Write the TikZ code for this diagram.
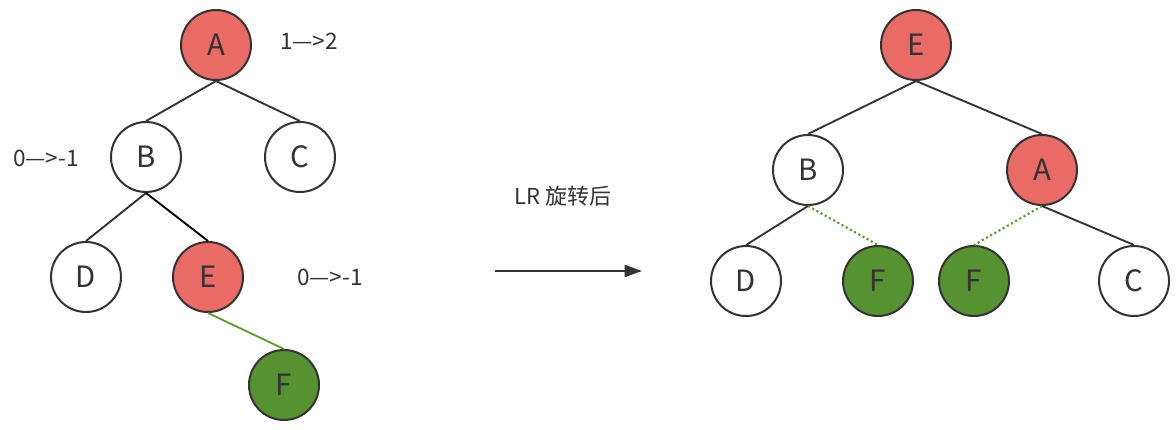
\documentclass[tikz,border=0pt]{standalone}
\usepackage{fontspec}
\setmainfont{Noto Sans CJK SC}
\usetikzlibrary{arrows.meta}
\definecolor{ink}{HTML}{333333}
\definecolor{redfill}{HTML}{EA6B66}
\definecolor{greenfill}{HTML}{56922F}
\definecolor{greenline}{HTML}{5C9E2E}
\tikzset{
  tn/.style={circle, draw=ink, line width=1.5pt, minimum size=52.5pt, inner sep=0pt, font=\fontsize{22}{22}\selectfont, text=ink},
  rn/.style={tn, fill=redfill},
  gn/.style={tn, fill=greenfill},
  wn/.style={tn, fill=white},
  edge/.style={draw=ink, line width=1.4pt},
  gedge/.style={draw=greenline, line width=1.4pt},
  dedge/.style={draw=greenline, line width=1.6pt, dotted},
  lbl/.style={font=\fontsize{17}{17}\selectfont, text=ink},
}
\begin{document}
\begin{tikzpicture}[x=0.75pt,y=-0.75pt]
\useasboundingbox (0,0) rectangle (1176,429);
% left tree
\node[rn] (lA) at (216,45) {A};
\node[wn] (lB) at (146,157) {B};
\node[wn] (lC) at (300,157) {C};
\node[wn] (lD) at (86,277) {D};
\node[rn] (lE) at (208,277) {E};
\node[gn] (lF) at (284,385) {F};
\draw[edge] (lA.south) -- (lB.north);
\draw[edge] (lA.south) -- (lC.north);
\draw[edge] (lB.south) -- (lD.north);
\draw[draw=black, line width=1.4pt] (lB.south) -- (lE.north);
\draw[gedge] (lE.south) -- (lF.north);
\node[lbl] (t1) at (309,41) {1—>2};
\node[lbl] (t2) at (46,158) {0—>-1};
\node[lbl] (t3) at (330,277) {0—>-1};
% arrow
\coordinate (a1) at (495,271);
\coordinate (a2) at (642,271);
\draw[draw=ink, line width=1.4pt, -{Triangle[length=13pt,width=9pt]}] (a1) -- (a2);
\node[lbl, font=\fontsize{16.5}{16.5}\selectfont] (t4) at (563,196) {LR 旋转后};
% right tree
\node[rn] (rE) at (916,45) {E};
\node[wn] (rB) at (808,170) {B};
\node[rn] (rA) at (1042,170) {A};
\node[wn] (rD) at (746,281) {D};
\node[gn] (rF1) at (878,281) {F};
\node[gn] (rF2) at (974,281) {F};
\node[wn] (rC) at (1134,281) {C};
\draw[edge] (rE.south) -- (rB.north);
\draw[edge] (rE.south) -- (rA.north);
\draw[edge] (rB.south) -- (rD.north);
\draw[dedge] (rB.south) -- (rF1.north);
\draw[dedge] (rA.south) -- (rF2.north);
\draw[edge] (rA.south) -- (rC.north);
\end{tikzpicture}
\end{document}
